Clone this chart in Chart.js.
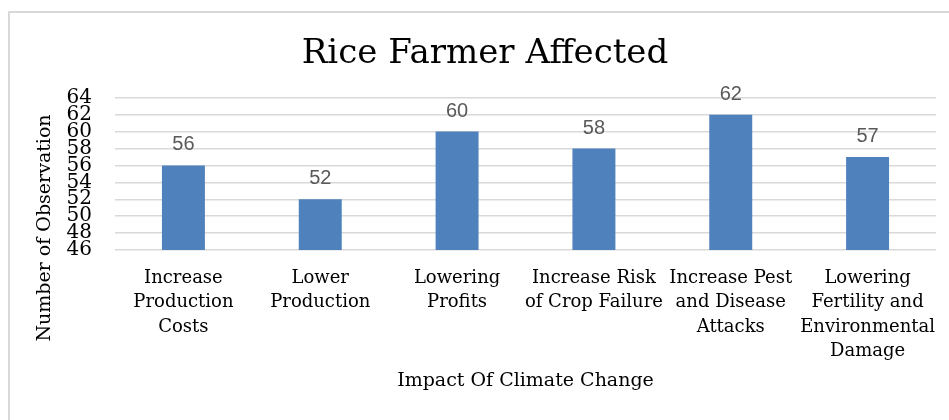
<!DOCTYPE html>
<html>
<head>
<meta charset="utf-8">
<script src="https://cdn.jsdelivr.net/npm/chart.js@4.4.1/dist/chart.umd.min.js"></script>
<style>
  html, body { margin: 0; padding: 0; background: #fff; overflow: hidden; }
  #frame {
    position: absolute; left: 8px; top: 11px;
    width: 960px; height: 420px;
    border-left: 2px solid #d9d9d9; border-top: 2px solid #d9d9d9;
  }
  #wrap { position: absolute; left: 0; top: 0; width: 939px; height: 407px; }
</style>
</head>
<body>
<div id="frame"><div id="wrap"><canvas id="myChart"></canvas></div></div>
<script>
const categories = [
  ["Increase", "Production", "Costs"],
  ["Lower", "Production"],
  ["Lowering", "Profits"],
  ["Increase Risk", "of Crop Failure"],
  ["Increase Pest", "and Disease", "Attacks"],
  ["Lowering", "Fertility and", "Environmental", "Damage"]
];
const observations = [56, 52, 60, 58, 62, 57];
const yMin = 46, yMax = 64, yStep = 2;

const serif = "'DejaVu Serif', serif";

// value above each bar + the rotated y title
const extras = {
  id: "extras",
  afterDraw(chart) {
    const ctx = chart.ctx;
    const meta = chart.getDatasetMeta(0);
    ctx.save();
    ctx.font = "20px 'Liberation Sans', sans-serif";
    ctx.fillStyle = "#595959";
    ctx.textAlign = "center";
    ctx.textBaseline = "alphabetic";
    meta.data.forEach((bar, i) => {
      ctx.fillText(observations[i], bar.x, bar.y - 15);
    });
    ctx.font = "19px " + serif;
    ctx.fillStyle = "#000";
    ctx.translate(35, 215);
    ctx.rotate(-Math.PI / 2);
    ctx.textBaseline = "middle";
    ctx.fillText("Number of Observation", 0, 0);
    ctx.restore();
  }
};

new Chart(document.getElementById("myChart"), {
  type: "bar",
  data: {
    labels: categories,
    datasets: [{
      data: observations,
      backgroundColor: "#4f81bd",
      barPercentage: 0.314,
      categoryPercentage: 1
    }]
  },
  options: {
    responsive: true,
    maintainAspectRatio: false,
    animation: false,
    layout: { padding: { left: 24, right: 13, top: 0, bottom: 0 } },
    plugins: {
      legend: { display: false },
      tooltip: { enabled: false },
      title: {
        display: true,
        text: "Rice Farmer Affected",
        color: "#000",
        font: { family: serif, size: 34, weight: "normal", lineHeight: 1.2 },
        padding: { top: 21, bottom: 23 }
      }
    },
    scales: {
      x: {
        grid: { display: false },
        border: { display: false },
        ticks: {
          color: "#000",
          autoSkip: false,
          maxRotation: 0,
          padding: 8,
          font: { family: serif, size: 18, lineHeight: 1.36 }
        },
        title: {
          display: true,
          text: "Impact Of Climate Change",
          color: "#000",
          font: { family: serif, size: 19, lineHeight: 1.2 },
          padding: { top: 0, bottom: 28 }
        },
        afterFit(scale) { scale.height = 170; }
      },
      y: {
        min: yMin,
        max: yMax,
        grid: { color: "#d9d9d9", lineWidth: 1.5, drawTicks: false },
        border: { display: false },
        ticks: {
          stepSize: yStep,
          autoSkip: false,
          color: "#000",
          padding: 23,
          font: { family: serif, size: 20 }
        },
        afterFit(scale) { scale.width = 81; }
      }
    }
  },
  plugins: [extras]
});
</script>
</body>
</html>
